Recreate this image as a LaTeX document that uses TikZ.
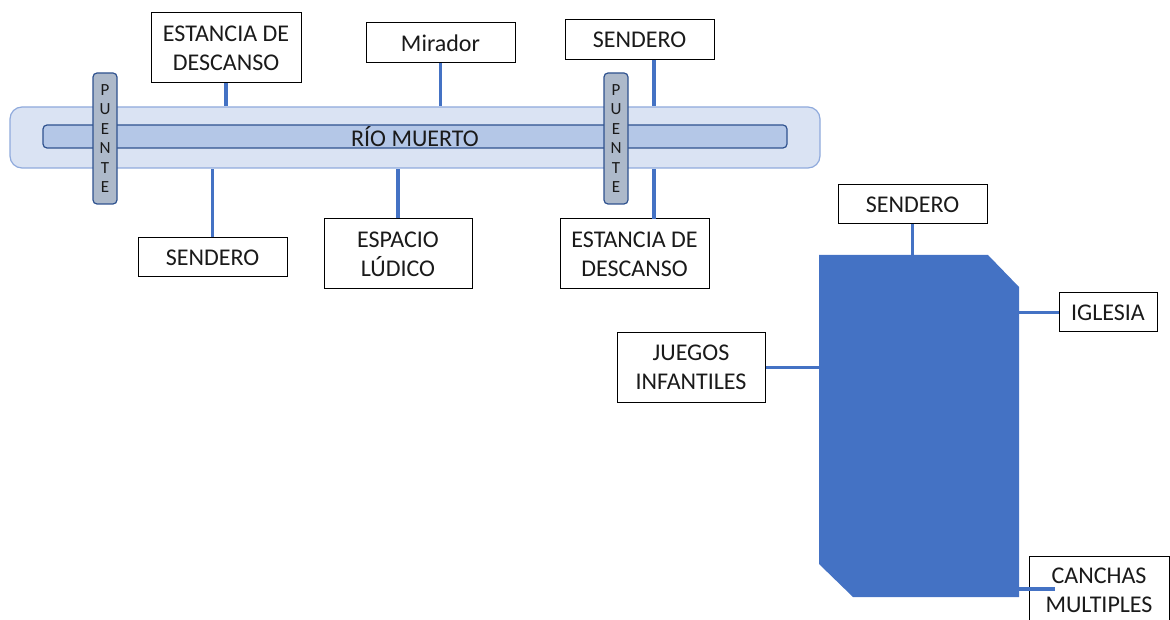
\documentclass[tikz,border=0pt]{standalone}
\usepackage{fontspec}
\setmainfont{Carlito}
\definecolor{riverout}{HTML}{DAE3F3}
\definecolor{riveroutline}{HTML}{8FAADC}
\definecolor{riverin}{HTML}{B4C7E7}
\definecolor{darkblue}{HTML}{2F528F}
\definecolor{bridgefill}{HTML}{ADB9CA}
\definecolor{accent}{HTML}{4472C4}
\definecolor{txt}{HTML}{1A1A1A}
\begin{document}
\begin{tikzpicture}[x=1pt,y=-1pt,
  lbl/.style={draw=black, line width=1pt, fill=white, inner sep=0pt, align=center,
    text=txt, font=\fontsize{24}{29}\selectfont},
  link/.style={draw=accent, line width=3.4pt},
  bridge/.style={draw=darkblue, fill=bridgefill, line width=1.2pt, rounded corners=4pt,
    minimum width=24pt, minimum height=131pt, inner sep=0pt, align=center,
    font=\fontsize{17}{19.5}\selectfont, text=txt}]
\useasboundingbox (0,0) rectangle (1170,620);
% river
\node[draw=riveroutline, fill=riverout, line width=1.2pt, rounded corners=12pt,
  minimum width=810pt, minimum height=61pt, inner sep=0pt] (riverout) at (415,137.5) {};
\node[draw=darkblue, fill=riverin, line width=1.2pt, rounded corners=4pt,
  minimum width=744pt, minimum height=23pt, inner sep=0pt, text=txt,
  font=\fontsize{24}{29}\selectfont] (river) at (415,136.5) {\raisebox{1pt}{RÍO MUERTO}};
% top labels
\node[lbl, minimum width=150pt, minimum height=70pt] (est1) at (226,48) {ESTANCIA DE\\DESCANSO};
\node[lbl, minimum width=149pt, minimum height=40pt] (mir) at (440.5,43) {Mirador};
\node[lbl, minimum width=149pt, minimum height=40pt] (sen1) at (639.5,40) {SENDERO};
% bottom labels
\node[lbl, minimum width=149pt, minimum height=39pt] (sen2) at (212.5,257.5) {SENDERO};
\node[lbl, minimum width=148pt, minimum height=70pt] (esp) at (398,254) {ESPACIO\\LÚDICO};
\node[lbl, minimum width=149pt, minimum height=70pt] (est2) at (634.5,254) {ESTANCIA DE\\DESCANSO};
% connectors to river
\draw[link] (est1.south) -- (est1.south |- riverout.north);
\draw[link] (mir.south) -- (mir.south |- riverout.north);
\coordinate (s1c) at (654,60);
\draw[link] (s1c) -- (s1c |- riverout.north);
\draw[link] (sen2.north) -- (sen2.north |- riverout.south);
\draw[link] (esp.north) -- (esp.north |- riverout.south);
\coordinate (e2c) at (654,219);
\draw[link] (e2c) -- (e2c |- riverout.south);
% bridges
\node[bridge] (br1) at (105,138.5) {P\\U\\E\\N\\T\\E};
\node[bridge] (br2) at (616,138.5) {P\\U\\E\\N\\T\\E};
% block
\coordinate (b1) at (819,255);
\coordinate (b2) at (988,255);
\coordinate (b3) at (1019,287);
\coordinate (b4) at (1019,597);
\coordinate (b5) at (853,597);
\coordinate (b6) at (819,564);
\fill[accent] (b1) -- (b2) -- (b3) -- (b4) -- (b5) -- (b6) -- cycle;
% right labels
\node[lbl, minimum width=149pt, minimum height=39pt] (sen3) at (912.5,204.5) {SENDERO};
\node[lbl, minimum width=98pt, minimum height=39pt] (igl) at (1108,312.5) {IGLESIA};
\node[lbl, minimum width=148pt, minimum height=69pt] (jue) at (691,367.5) {JUEGOS\\INFANTILES};
\node[lbl, minimum width=140pt, minimum height=68pt] (can) at (1099,590) {CANCHAS\\MULTIPLES};
\draw[link] (sen3.south) -- (sen3.south |- b1);
\draw[link] (igl.west) -- (igl.west -| b3);
\draw[link] (jue.east) -- (jue.east -| b1);
\coordinate (cc) at (1055,589);
\draw[link] (b4 |- cc) -- (cc);
\end{tikzpicture}
\end{document}
